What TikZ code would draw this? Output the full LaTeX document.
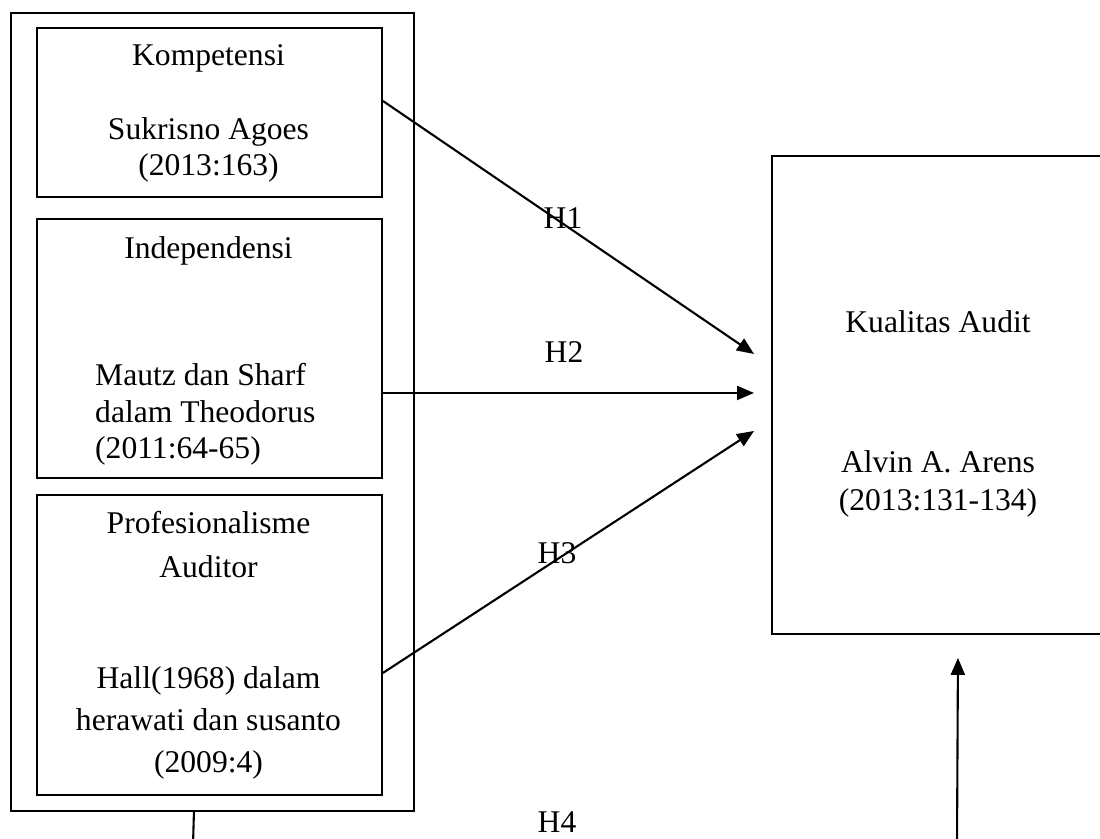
\documentclass[tikz,border=0pt]{standalone}
\usepackage{fontspec}
\setmainfont{Liberation Serif}
\usetikzlibrary{arrows.meta}
\begin{document}
\begin{tikzpicture}[x=1pt,y=-1pt,
  box/.style={draw,line width=1.9pt,inner sep=0pt,anchor=north west},
  txt/.style={inner sep=0pt,anchor=base,font=\fontsize{31.6}{36}\selectfont},
  ltxt/.style={txt,anchor=base west},
  conn/.style={line width=2.1pt,-{Triangle[length=17pt,width=14pt]}},
  plain/.style={line width=2.1pt}]
\useasboundingbox (0,0) rectangle (1100,838);
% boxes
\node[box,minimum width=403pt,minimum height=798pt] (outer) at (10,12) {};
\node[box,minimum width=345pt,minimum height=169pt] (komp) at (36,27) {};
\node[box,minimum width=345pt,minimum height=259pt] (indep) at (36,218) {};
\node[box,minimum width=345pt,minimum height=300pt] (prof) at (36,494) {};
\node[box,minimum width=345pt,minimum height=478pt] (kual) at (771,155) {};
% texts
\node[txt] (t1a) at (208.5,65) {Kompetensi};
\node[txt] (t1b) at (208.5,139) {Sukrisno Agoes};
\node[txt] (t1c) at (208.5,175) {(2013:163)};
\node[txt] (t2a) at (208.5,258) {Independensi};
\node[ltxt] (t2b) at (95,385) {Mautz dan Sharf};
\node[ltxt] (t2c) at (95,422) {dalam Theodorus};
\node[ltxt] (t2d) at (95,458) {(2011:64-65)};
\node[txt] (t3a) at (208.5,533) {Profesionalisme};
\node[txt] (t3b) at (208.5,577) {Auditor};
\node[txt] (t3c) at (208.5,688) {Hall(1968) dalam};
\node[txt] (t3d) at (208.5,730) {herawati dan susanto};
\node[txt] (t3e) at (208.5,772) {(2009:4)};
\node[txt] (t4a) at (938,332) {Kualitas Audit};
\node[txt] (t4b) at (938,472) {Alvin A. Arens};
\node[txt] (t4c) at (938,510) {(2013:131-134)};
% connectors
\draw[conn] ([yshift=11.5pt]komp.east) -- ([xshift=-17pt,yshift=41pt]kual.west);
\draw[conn] ([yshift=-44.5pt]indep.east) -- ([xshift=-17pt,yshift=2pt]kual.west);
\draw[conn] ([yshift=-28pt]prof.east) -- ([xshift=-17pt,yshift=-36pt]kual.west);
\coordinate (bl) at (193,845);
\coordinate (br) at (957,845);
\draw[plain] ([xshift=-18.5pt]outer.south) -- (bl);
\draw[conn] (br) -- ([xshift=13.5pt,yshift=-23pt]kual.south);
% labels
\node[txt] (h1) at (563,228) {H1};
\node[txt] (h2) at (564,362) {H2};
\node[txt] (h3) at (557,563) {H3};
\node[txt] (h4) at (557,832) {H4};
\end{tikzpicture}
\end{document}
